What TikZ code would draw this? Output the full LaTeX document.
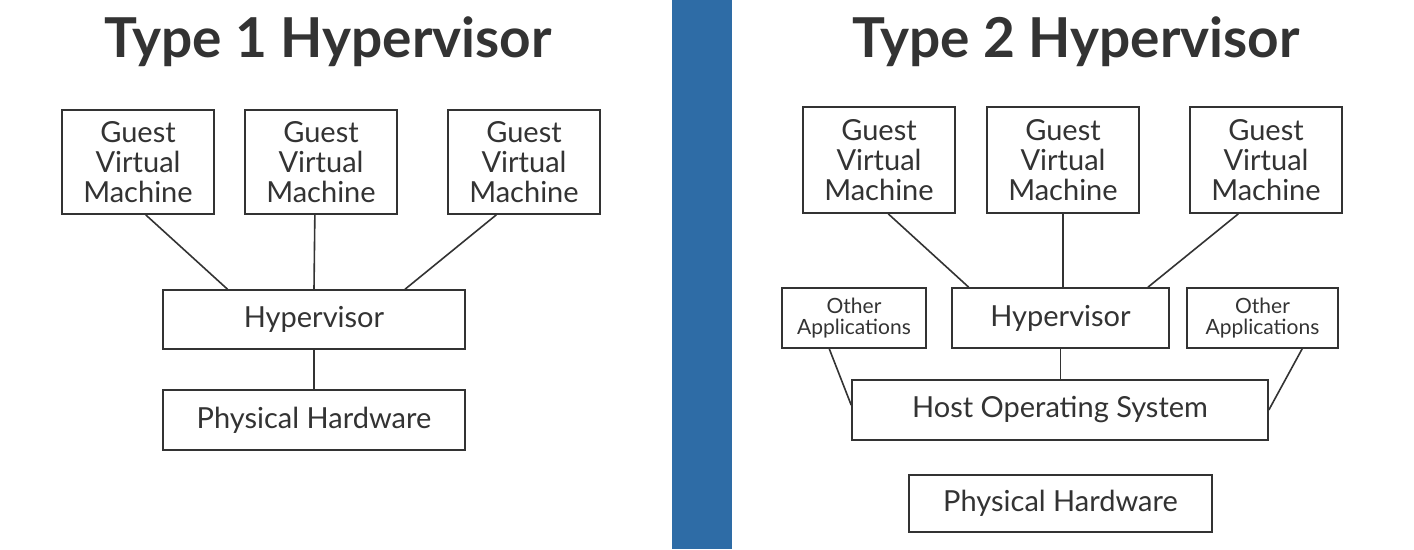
\documentclass[tikz,border=0pt]{standalone}
\usepackage{fontspec}
\setmainfont{Lato}
\usetikzlibrary{calc}
\definecolor{ink}{HTML}{333333}
\definecolor{barblue}{HTML}{2E6CA6}
\begin{document}
\begin{tikzpicture}[x=1pt,y=-1pt,
  box/.style={draw=ink, line width=1.6pt, rectangle, inner sep=0pt, text=ink, align=center,
    font=\fontsize{29}{30}\selectfont},
  small/.style={font=\fontsize{21}{21}\selectfont},
  title/.style={text=ink, font=\fontsize{55}{60}\selectfont\bfseries, inner sep=0pt},
  link/.style={draw=ink, line width=1.6pt}]
\useasboundingbox (0,0) rectangle (1414,549);
\fill[white] (0,0) rectangle (1414,549);
\fill[barblue] (672,0) rectangle (732,549);
% Type 1
\node[title] (t1) at (328,42) {Type 1 Hypervisor};
\node[box, minimum width=152pt, minimum height=104pt] (a1) at (138,162) {Guest\\Virtual\\Machine};
\node[box, minimum width=152pt, minimum height=104pt] (a2) at (321,162) {Guest\\Virtual\\Machine};
\node[box, minimum width=152pt, minimum height=104pt] (a3) at (524,162) {Guest\\Virtual\\Machine};
\node[box, minimum width=302pt, minimum height=59pt] (ah) at (314,319.5) {Hypervisor};
\node[box, minimum width=302pt, minimum height=60pt] (ap) at (314,420) {Physical Hardware};
\draw[link] ($(a1.south west)!0.55!(a1.south east)$) -- ($(ah.north west)!0.215!(ah.north east)$);
\draw[link] ($(a2.south west)!0.46!(a2.south east)$) -- ($(ah.north west)!0.50!(ah.north east)$);
\draw[link] ($(a3.south west)!0.32!(a3.south east)$) -- ($(ah.north west)!0.80!(ah.north east)$);
\draw[link] (ah.south) -- (ap.north);
% Type 2
\node[title] (t2) at (1076,42) {Type 2 Hypervisor};
\node[box, minimum width=152pt, minimum height=106pt] (b1) at (879,160) {Guest\\Virtual\\Machine};
\node[box, minimum width=152pt, minimum height=106pt] (b2) at (1063,160) {Guest\\Virtual\\Machine};
\node[box, minimum width=152pt, minimum height=106pt] (b3) at (1266,160) {Guest\\Virtual\\Machine};
\node[box, small, minimum width=144pt, minimum height=60pt] (o1) at (854,318) {Other\\Applications};
\node[box, minimum width=217pt, minimum height=60pt] (bh) at (1060.5,318) {Hypervisor};
\node[box, small, minimum width=151pt, minimum height=60pt] (o2) at (1262.5,318) {Other\\Applications};
\node[box, minimum width=416pt, minimum height=60pt] (hos) at (1060,410) {Host Operating System};
\node[box, minimum width=303pt, minimum height=57pt] (bp) at (1060.5,503.5) {Physical Hardware};
\draw[link] ($(b1.south west)!0.56!(b1.south east)$) -- ($(bh.north west)!0.08!(bh.north east)$);
\draw[link] (b2.south) -- (bh.north -| b2.south);
\draw[link] ($(b3.south west)!0.32!(b3.south east)$) -- ($(bh.north west)!0.90!(bh.north east)$);
\draw[link] (bh.south) -- (hos.north -| bh.south);
\draw[link] ($(o1.south west)!0.33!(o1.south east)$) -- ($(hos.north west)!0.42!(hos.south west)$);
\draw[link] ($(o2.south west)!0.76!(o2.south east)$) -- ($(hos.north east)!0.5!(hos.south east)$);
\end{tikzpicture}
\end{document}
